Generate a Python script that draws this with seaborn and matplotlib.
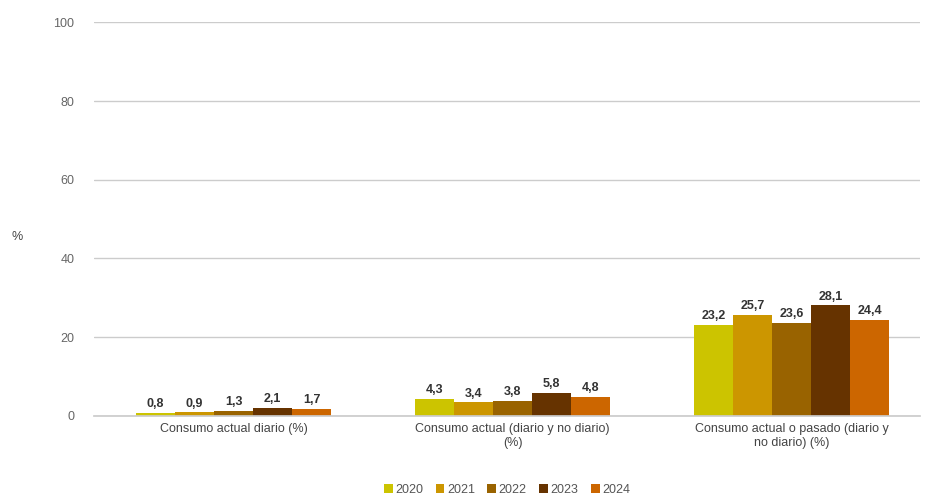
import matplotlib
matplotlib.use("Agg")
import matplotlib.pyplot as plt
import seaborn as sns
import pandas as pd

categories = ["Consumo actual diario (%)",
              "Consumo actual (diario y no diario)\n(%)",
              "Consumo actual o pasado (diario y\nno diario) (%)"]
years = ["2020", "2021", "2022", "2023", "2024"]
values = {
    "2020": [0.8, 4.3, 23.2],
    "2021": [0.9, 3.4, 25.7],
    "2022": [1.3, 3.8, 23.6],
    "2023": [2.1, 5.8, 28.1],
    "2024": [1.7, 4.8, 24.4],
}
colors = ["#CCC400", "#CC9600", "#996300", "#663300", "#CC6600"]

rows = []
for y in years:
    for c, v in zip(categories, values[y]):
        rows.append({"cat": c, "year": y, "val": v})
df = pd.DataFrame(rows)

sns.set_theme(style="white")
plt.rcParams['font.family'] = ['Liberation Sans', 'DejaVu Sans']

fig = plt.figure(figsize=(9.25, 4.98), dpi=100)
ax = fig.add_axes([0.1016, 0.165, 0.893, 0.79])

sns.barplot(data=df, x="cat", y="val", hue="year", palette=colors,
            width=0.70, saturation=1, ax=ax, legend=True, linewidth=0)

for cont in ax.containers:
    labels = [f"{v:.1f}".replace(".", ",") for v in cont.datavalues]
    ax.bar_label(cont, labels=labels, padding=2, fontsize=9,
                 fontweight="bold", color="#333333")

ax.set_xlim(-0.5, 2.46)
ax.set_ylim(0, 100)
ax.set_yticks([0, 20, 40, 60, 80, 100])
ax.yaxis.grid(True, color="#cccccc", linewidth=1)
ax.set_axisbelow(True)
for s in ["top", "right", "left"]:
    ax.spines[s].set_visible(False)
ax.spines["bottom"].set_color("#cccccc")
ax.tick_params(axis="y", length=0, labelsize=9, labelcolor="#666666", pad=14)
ax.tick_params(axis="x", length=0, labelsize=9, labelcolor="#444444", pad=5)
ax.set_xlabel("")
ax.set_ylabel("%", rotation=0, fontsize=9, color="#444444")
ax.yaxis.set_label_coords(-0.093, 0.44)

leg = ax.legend(loc="center", bbox_to_anchor=(0.5, -0.189), ncol=5,
                frameon=False, fontsize=9, handlelength=0.7, handleheight=0.7,
                handletextpad=0.2, columnspacing=1.0, labelcolor="#555555")

fig.savefig("out.png", dpi=100)
